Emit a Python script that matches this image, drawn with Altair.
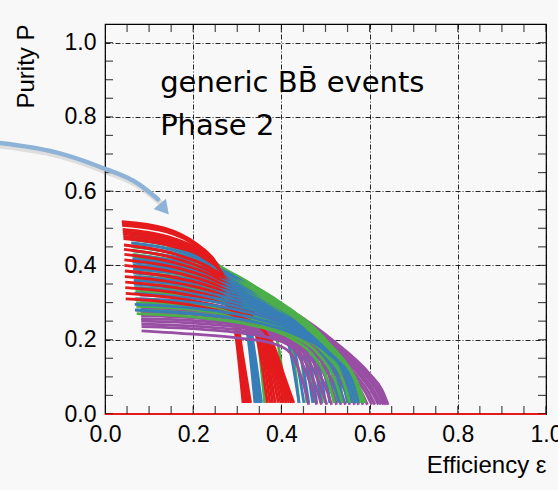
import altair as alt
import pandas as pd

# ---- purity vs efficiency curves (efficiency, purity) ----
RED = [
    [(0.038, 0.518), (0.137, 0.500), (0.205, 0.460), (0.250, 0.410), (0.278, 0.340), (0.298, 0.200), (0.313, 0.030)],
    [(0.0385, 0.513), (0.138, 0.495), (0.207, 0.455), (0.252, 0.405), (0.280, 0.335), (0.300, 0.195), (0.315, 0.030)],
    [(0.039, 0.508), (0.140, 0.490), (0.210, 0.450), (0.255, 0.400), (0.282, 0.330), (0.302, 0.190), (0.317, 0.030)],
    [(0.040, 0.497), (0.140, 0.478), (0.215, 0.440), (0.260, 0.390), (0.286, 0.320), (0.305, 0.180), (0.321, 0.030)],
    [(0.0405, 0.491), (0.142, 0.472), (0.217, 0.435), (0.262, 0.385), (0.288, 0.315), (0.307, 0.175), (0.323, 0.030)],
    [(0.041, 0.485), (0.145, 0.466), (0.220, 0.430), (0.265, 0.380), (0.290, 0.310), (0.309, 0.170), (0.326, 0.030)],
    [(0.0415, 0.478), (0.147, 0.459), (0.222, 0.425), (0.267, 0.375), (0.292, 0.305), (0.310, 0.165), (0.328, 0.030)],
    [(0.042, 0.472), (0.150, 0.452), (0.225, 0.420), (0.270, 0.370), (0.294, 0.300), (0.312, 0.160), (0.330, 0.030)],
    [(0.043, 0.455), (0.160, 0.430), (0.250, 0.385), (0.300, 0.335), (0.330, 0.270), (0.355, 0.140), (0.368, 0.030)],
    [(0.043, 0.443), (0.162, 0.418), (0.252, 0.375), (0.305, 0.325), (0.335, 0.260), (0.361, 0.135), (0.374, 0.030)],
    [(0.044, 0.430), (0.165, 0.405), (0.255, 0.365), (0.310, 0.315), (0.340, 0.250), (0.367, 0.130), (0.380, 0.030)],
    [(0.044, 0.415), (0.167, 0.392), (0.260, 0.352), (0.315, 0.305), (0.345, 0.243), (0.372, 0.125), (0.386, 0.030)],
    [(0.044, 0.400), (0.170, 0.378), (0.265, 0.340), (0.320, 0.295), (0.350, 0.235), (0.378, 0.120), (0.393, 0.030)],
    [(0.045, 0.385), (0.172, 0.364), (0.270, 0.328), (0.325, 0.285), (0.355, 0.228), (0.384, 0.115), (0.399, 0.030)],
    [(0.045, 0.370), (0.175, 0.350), (0.275, 0.315), (0.330, 0.275), (0.360, 0.220), (0.390, 0.110), (0.405, 0.030)],
    [(0.046, 0.355), (0.177, 0.336), (0.280, 0.302), (0.335, 0.265), (0.365, 0.212), (0.395, 0.105), (0.411, 0.030)],
    [(0.046, 0.340), (0.180, 0.322), (0.285, 0.290), (0.340, 0.255), (0.370, 0.205), (0.400, 0.100), (0.417, 0.030)],
    [(0.047, 0.325), (0.182, 0.308), (0.290, 0.278), (0.345, 0.245), (0.375, 0.198), (0.405, 0.095), (0.423, 0.030)],
    [(0.047, 0.310), (0.185, 0.295), (0.295, 0.265), (0.350, 0.235), (0.380, 0.190), (0.410, 0.090), (0.428, 0.030)],
]
BLUE = [
    [(0.058, 0.488), (0.150, 0.470), (0.225, 0.430), (0.270, 0.385), (0.305, 0.330), (0.327, 0.180), (0.340, 0.030)],
    [(0.0585, 0.479), (0.152, 0.460), (0.228, 0.422), (0.275, 0.378), (0.308, 0.322), (0.330, 0.175), (0.344, 0.030)],
    [(0.059, 0.470), (0.155, 0.450), (0.230, 0.415), (0.280, 0.370), (0.312, 0.315), (0.333, 0.170), (0.347, 0.030)],
    [(0.0595, 0.461), (0.157, 0.441), (0.235, 0.408), (0.285, 0.365), (0.316, 0.308), (0.337, 0.165), (0.351, 0.030)],
    [(0.060, 0.452), (0.160, 0.432), (0.240, 0.400), (0.290, 0.360), (0.320, 0.300), (0.340, 0.160), (0.355, 0.030)],
    [(0.061, 0.440), (0.170, 0.420), (0.260, 0.390), (0.320, 0.350), (0.370, 0.300), (0.420, 0.170), (0.440, 0.030)],
    [(0.0615, 0.428), (0.170, 0.410), (0.265, 0.380), (0.330, 0.337), (0.385, 0.285), (0.432, 0.160), (0.451, 0.030)],
    [(0.062, 0.418), (0.170, 0.400), (0.270, 0.370), (0.340, 0.325), (0.400, 0.270), (0.445, 0.150), (0.462, 0.030)],
    [(0.0625, 0.409), (0.175, 0.392), (0.275, 0.362), (0.345, 0.320), (0.410, 0.260), (0.455, 0.145), (0.471, 0.030)],
    [(0.063, 0.400), (0.180, 0.385), (0.280, 0.355), (0.350, 0.315), (0.420, 0.250), (0.465, 0.140), (0.480, 0.030)],
    [(0.0635, 0.390), (0.180, 0.375), (0.285, 0.345), (0.360, 0.305), (0.430, 0.243), (0.475, 0.135), (0.490, 0.030)],
    [(0.064, 0.380), (0.180, 0.365), (0.290, 0.335), (0.370, 0.295), (0.440, 0.235), (0.485, 0.130), (0.500, 0.030)],
    [(0.0645, 0.370), (0.185, 0.355), (0.295, 0.325), (0.375, 0.288), (0.450, 0.225), (0.495, 0.125), (0.510, 0.030)],
    [(0.065, 0.360), (0.190, 0.345), (0.300, 0.315), (0.380, 0.280), (0.460, 0.215), (0.505, 0.120), (0.520, 0.030)],
    [(0.0655, 0.350), (0.190, 0.335), (0.305, 0.305), (0.390, 0.270), (0.470, 0.205), (0.515, 0.115), (0.530, 0.030)],
    [(0.066, 0.340), (0.190, 0.325), (0.310, 0.295), (0.400, 0.260), (0.480, 0.195), (0.525, 0.110), (0.540, 0.030)],
    [(0.0665, 0.325), (0.195, 0.312), (0.315, 0.285), (0.410, 0.248), (0.490, 0.185), (0.535, 0.105), (0.550, 0.030)],
    [(0.067, 0.310), (0.200, 0.300), (0.320, 0.275), (0.420, 0.235), (0.500, 0.175), (0.545, 0.100), (0.560, 0.030)],
    [(0.0675, 0.295), (0.200, 0.285), (0.325, 0.262), (0.425, 0.225), (0.505, 0.168), (0.552, 0.095), (0.568, 0.030)],
    [(0.068, 0.280), (0.200, 0.270), (0.330, 0.250), (0.430, 0.215), (0.510, 0.160), (0.560, 0.090), (0.575, 0.030)],
]
GREEN = [
    [(0.062, 0.470), (0.160, 0.450), (0.245, 0.410), (0.295, 0.365), (0.330, 0.310), (0.350, 0.170), (0.362, 0.030)],
    [(0.0625, 0.460), (0.165, 0.440), (0.252, 0.402), (0.312, 0.357), (0.355, 0.305), (0.395, 0.170), (0.410, 0.030)],
    [(0.063, 0.450), (0.170, 0.430), (0.260, 0.395), (0.330, 0.350), (0.380, 0.300), (0.425, 0.170), (0.440, 0.030)],
    [(0.0635, 0.440), (0.170, 0.420), (0.265, 0.388), (0.340, 0.343), (0.400, 0.283), (0.443, 0.160), (0.458, 0.030)],
    [(0.064, 0.430), (0.170, 0.410), (0.270, 0.380), (0.350, 0.335), (0.420, 0.265), (0.460, 0.150), (0.475, 0.030)],
    [(0.0645, 0.420), (0.175, 0.402), (0.275, 0.372), (0.360, 0.325), (0.435, 0.255), (0.478, 0.145), (0.493, 0.030)],
    [(0.065, 0.410), (0.180, 0.393), (0.280, 0.365), (0.370, 0.315), (0.450, 0.245), (0.495, 0.140), (0.510, 0.030)],
    [(0.0655, 0.400), (0.180, 0.384), (0.285, 0.357), (0.375, 0.307), (0.465, 0.232), (0.510, 0.135), (0.525, 0.030)],
    [(0.066, 0.390), (0.180, 0.375), (0.290, 0.350), (0.380, 0.300), (0.480, 0.220), (0.525, 0.130), (0.540, 0.030)],
    [(0.0665, 0.380), (0.185, 0.366), (0.295, 0.340), (0.390, 0.292), (0.490, 0.210), (0.538, 0.120), (0.553, 0.030)],
    [(0.067, 0.370), (0.190, 0.357), (0.300, 0.330), (0.400, 0.285), (0.500, 0.200), (0.550, 0.110), (0.565, 0.030)],
    [(0.0675, 0.360), (0.190, 0.347), (0.305, 0.320), (0.405, 0.275), (0.505, 0.192), (0.555, 0.105), (0.572, 0.030)],
    [(0.068, 0.350), (0.190, 0.338), (0.310, 0.310), (0.410, 0.265), (0.510, 0.185), (0.560, 0.100), (0.578, 0.030)],
    [(0.0685, 0.340), (0.195, 0.328), (0.315, 0.300), (0.415, 0.255), (0.515, 0.178), (0.565, 0.095), (0.584, 0.030)],
    [(0.069, 0.330), (0.200, 0.318), (0.320, 0.290), (0.420, 0.245), (0.520, 0.170), (0.570, 0.090), (0.590, 0.030)],
    [(0.070, 0.310), (0.200, 0.298), (0.320, 0.270), (0.430, 0.230), (0.520, 0.160), (0.560, 0.090), (0.580, 0.030)],
    [(0.0705, 0.300), (0.205, 0.289), (0.325, 0.262), (0.430, 0.222), (0.510, 0.160), (0.550, 0.090), (0.568, 0.030)],
    [(0.071, 0.290), (0.210, 0.280), (0.330, 0.255), (0.430, 0.215), (0.500, 0.160), (0.540, 0.090), (0.555, 0.030)],
    [(0.0715, 0.280), (0.210, 0.270), (0.330, 0.248), (0.425, 0.210), (0.485, 0.160), (0.522, 0.090), (0.538, 0.030)],
    [(0.072, 0.270), (0.210, 0.260), (0.330, 0.240), (0.420, 0.205), (0.470, 0.160), (0.505, 0.090), (0.520, 0.030)],
]
PURPLE = [
    [(0.075, 0.400), (0.190, 0.385), (0.310, 0.350), (0.420, 0.280), (0.520, 0.195), (0.600, 0.108), (0.628, 0.065), (0.642, 0.025)],
    [(0.0755, 0.390), (0.190, 0.376), (0.310, 0.343), (0.420, 0.275), (0.520, 0.190), (0.595, 0.106), (0.623, 0.062), (0.637, 0.025)],
    [(0.076, 0.380), (0.190, 0.366), (0.310, 0.335), (0.420, 0.270), (0.520, 0.185), (0.590, 0.105), (0.618, 0.060), (0.632, 0.025)],
    [(0.0765, 0.370), (0.195, 0.356), (0.315, 0.325), (0.425, 0.262), (0.520, 0.180), (0.585, 0.102), (0.611, 0.060), (0.626, 0.025)],
    [(0.077, 0.360), (0.200, 0.347), (0.320, 0.315), (0.430, 0.255), (0.520, 0.175), (0.580, 0.100), (0.605, 0.060), (0.620, 0.025)],
    [(0.0775, 0.350), (0.200, 0.338), (0.320, 0.308), (0.430, 0.250), (0.515, 0.175), (0.572, 0.100), (0.597, 0.060), (0.612, 0.025)],
    [(0.078, 0.340), (0.200, 0.328), (0.320, 0.300), (0.430, 0.245), (0.510, 0.175), (0.565, 0.100), (0.590, 0.060), (0.605, 0.025)],
    [(0.0785, 0.330), (0.205, 0.319), (0.325, 0.290), (0.435, 0.235), (0.510, 0.170), (0.557, 0.100), (0.581, 0.060), (0.595, 0.025)],
    [(0.079, 0.320), (0.210, 0.310), (0.330, 0.280), (0.440, 0.225), (0.510, 0.165), (0.550, 0.100), (0.572, 0.060), (0.585, 0.025)],
    [(0.0795, 0.310), (0.210, 0.300), (0.330, 0.272), (0.435, 0.222), (0.505, 0.165), (0.542, 0.100), (0.563, 0.060), (0.575, 0.025)],
    [(0.080, 0.300), (0.210, 0.290), (0.330, 0.265), (0.430, 0.220), (0.500, 0.165), (0.535, 0.100), (0.555, 0.060), (0.566, 0.025)],
    [(0.0805, 0.292), (0.210, 0.282), (0.330, 0.258), (0.430, 0.215), (0.495, 0.162), (0.527, 0.100), (0.545, 0.060), (0.555, 0.025)],
    [(0.081, 0.285), (0.210, 0.275), (0.330, 0.252), (0.430, 0.210), (0.490, 0.160), (0.520, 0.100), (0.535, 0.060), (0.545, 0.025)],
    [(0.0815, 0.275), (0.215, 0.266), (0.330, 0.246), (0.425, 0.207), (0.480, 0.160), (0.510, 0.100), (0.525, 0.060), (0.535, 0.025)],
    [(0.082, 0.265), (0.220, 0.257), (0.330, 0.240), (0.420, 0.205), (0.470, 0.160), (0.500, 0.100), (0.515, 0.060), (0.525, 0.025)],
    [(0.082, 0.257), (0.220, 0.250), (0.325, 0.235), (0.415, 0.202), (0.460, 0.162), (0.490, 0.100), (0.504, 0.060), (0.514, 0.025)],
    [(0.082, 0.250), (0.220, 0.243), (0.320, 0.230), (0.410, 0.200), (0.450, 0.165), (0.480, 0.100), (0.493, 0.060), (0.503, 0.025)],
    [(0.0825, 0.242), (0.220, 0.235), (0.315, 0.224), (0.405, 0.197), (0.442, 0.165), (0.470, 0.100), (0.482, 0.060), (0.491, 0.025)],
    [(0.083, 0.235), (0.220, 0.228), (0.310, 0.218), (0.400, 0.195), (0.435, 0.165), (0.460, 0.100), (0.472, 0.060), (0.480, 0.025)],
    [(0.083, 0.224), (0.200, 0.215), (0.300, 0.205), (0.380, 0.190), (0.420, 0.165), (0.445, 0.100), (0.455, 0.060), (0.462, 0.025)],
]

SERIES = ["red", "blue", "green", "purple"]
COLORS = ["#e41a1c", "#377eb8", "#4daf4a", "#984ea3"]

X_LABELS = [0.0, 0.2, 0.4, 0.6, 0.8, 1.0]
Y_LABELS = [0.0, 0.2, 0.4, 0.6, 0.8, 1.0]
TICKS = [0.0, 0.05, 0.1, 0.15, 0.2, 0.25, 0.3, 0.35, 0.4, 0.45, 0.5,
         0.55, 0.6, 0.65, 0.7, 0.75, 0.8, 0.85, 0.9, 0.95, 1.0]

ANNOT_TEXT = ["generic BB\u0304 events", "Phase 2"]
ANNOT_X = [0.125, 0.125]
ANNOT_Y = [0.867, 0.751]

ARROW_X = [-0.24, -0.113, -0.011, 0.079, 0.120]
ARROW_Y = [0.730, 0.705, 0.665, 0.617, 0.578]
ARROW_HEAD_X = [0.131]
ARROW_HEAD_Y = [0.556]

# ---- build tables ----
rows = []
families = [RED, BLUE, GREEN, PURPLE]
n = max(len(f) for f in families)
for i in range(n):
    for s, fam in zip(SERIES, families):
        if i < len(fam):
            for j, (x, y) in enumerate(fam[i]):
                rows.append({"eff": x, "pur": y, "series": s, "curve": f"{s}{i}", "k": j})
df = pd.DataFrame(rows)

xs = alt.Scale(domain=[0, 1], nice=False, zero=False)
ys = alt.Scale(domain=[0, 1.05], nice=False, zero=False)
FONT = "Liberation Sans"
XT = "Efficiency \u03b5"
YT = "Purity P"

x_axis = alt.Axis(values=X_LABELS, format=".1f", title=XT, ticks=False, domain=False,
                  grid=True, gridColor="black", gridDash=[5, 2, 1, 2], gridWidth=1, gridOpacity=0.85,
                  labelFont=FONT, labelFontSize=23, labelColor="black", labelPadding=9,
                  labelFlush=False, labelOverlap=False,
                  titleFont=FONT, titleFontSize=24, titleFontWeight="normal", titleColor="black",
                  titleAnchor="end", titlePadding=7)
y_axis = alt.Axis(values=Y_LABELS, format=".1f", title=YT, ticks=False, domain=False,
                  grid=True, gridColor="black", gridDash=[5, 2, 1, 2], gridWidth=1, gridOpacity=0.85,
                  labelFont=FONT, labelFontSize=23, labelColor="black", labelPadding=9,
                  labelFlush=False, labelOverlap=False,
                  titleFont=FONT, titleFontSize=24, titleFontWeight="normal", titleColor="black",
                  titleAnchor="end", titlePadding=26)


def X(field):
    return alt.X(field, scale=xs, axis=x_axis, title=XT)


def Y(field):
    return alt.Y(field, scale=ys, axis=y_axis, title=YT)


def XD(v):
    return alt.XDatum(v, scale=xs, axis=x_axis, type="quantitative", title=XT)


def YD(v):
    return alt.YDatum(v, scale=ys, axis=y_axis, type="quantitative", title=YT)


lines = alt.Chart(df).mark_line(strokeWidth=2.8, interpolate="monotone", clip=True).encode(
    x=X("eff:Q"),
    y=Y("pur:Q"),
    color=alt.Color("series:N", scale=alt.Scale(domain=SERIES, range=COLORS), legend=None),
    detail="curve:N",
    order="k:Q",
)

baseline = alt.Chart(pd.DataFrame({"a": [0]})).mark_rule(color="#e41a1c", strokeWidth=2).encode(
    x=XD(0), x2=alt.X2Datum(1), y=YD(0),
)

tick_df = pd.DataFrame({"v": TICKS})
tick_kw = dict(color="black", thickness=1.2, size=16, clip=True)
t_bottom = alt.Chart(tick_df).mark_tick(orient="vertical", **tick_kw).encode(x=X("v:Q"), y=YD(0))
t_top = alt.Chart(tick_df).mark_tick(orient="vertical", **tick_kw).encode(x=X("v:Q"), y=YD(1.05))
t_left = alt.Chart(tick_df).mark_tick(orient="horizontal", **tick_kw).encode(y=Y("v:Q"), x=XD(0))
t_right = alt.Chart(tick_df).mark_tick(orient="horizontal", **tick_kw).encode(y=Y("v:Q"), x=XD(1))

arrow_df = pd.DataFrame({"x": ARROW_X, "y": ARROW_Y, "k": list(range(len(ARROW_X)))})
arrow_shadow = alt.Chart(arrow_df).mark_line(
    color="#555555", opacity=0.16, strokeWidth=6, interpolate="monotone", xOffset=2, yOffset=3, strokeCap="round"
).encode(x=X("x:Q"), y=Y("y:Q"), order="k:Q")
arrow = alt.Chart(arrow_df).mark_line(
    color="#8fb3d6", strokeWidth=4.5, interpolate="monotone", strokeCap="round"
).encode(x=X("x:Q"), y=Y("y:Q"), order="k:Q")
head = alt.Chart(pd.DataFrame({"x": ARROW_HEAD_X, "y": ARROW_HEAD_Y})).mark_point(
    shape="triangle", filled=True, size=260, angle=140, color="#8fb3d6", opacity=1
).encode(x=X("x:Q"), y=Y("y:Q"))

annot = alt.Chart(pd.DataFrame({"x": ANNOT_X, "y": ANNOT_Y, "t": ANNOT_TEXT})).mark_text(
    align="left", baseline="alphabetic", font="DejaVu Sans", fontSize=29, color="black"
).encode(x=X("x:Q"), y=Y("y:Q"), text="t:N")

chart = alt.layer(
    lines, baseline, t_bottom, t_top, t_left, t_right, arrow_shadow, arrow, head, annot
).properties(
    width=441, height=390,
    autosize=alt.AutoSizeParams(type="none"),
    padding={"left": 105, "top": 24, "right": 12, "bottom": 76},
    background="#f8f8f8",
).configure_view(stroke="black", strokeWidth=1.2, fill="#f8f8f8")

chart.save("out.html", embed_options={"renderer": "svg", "actions": False})
